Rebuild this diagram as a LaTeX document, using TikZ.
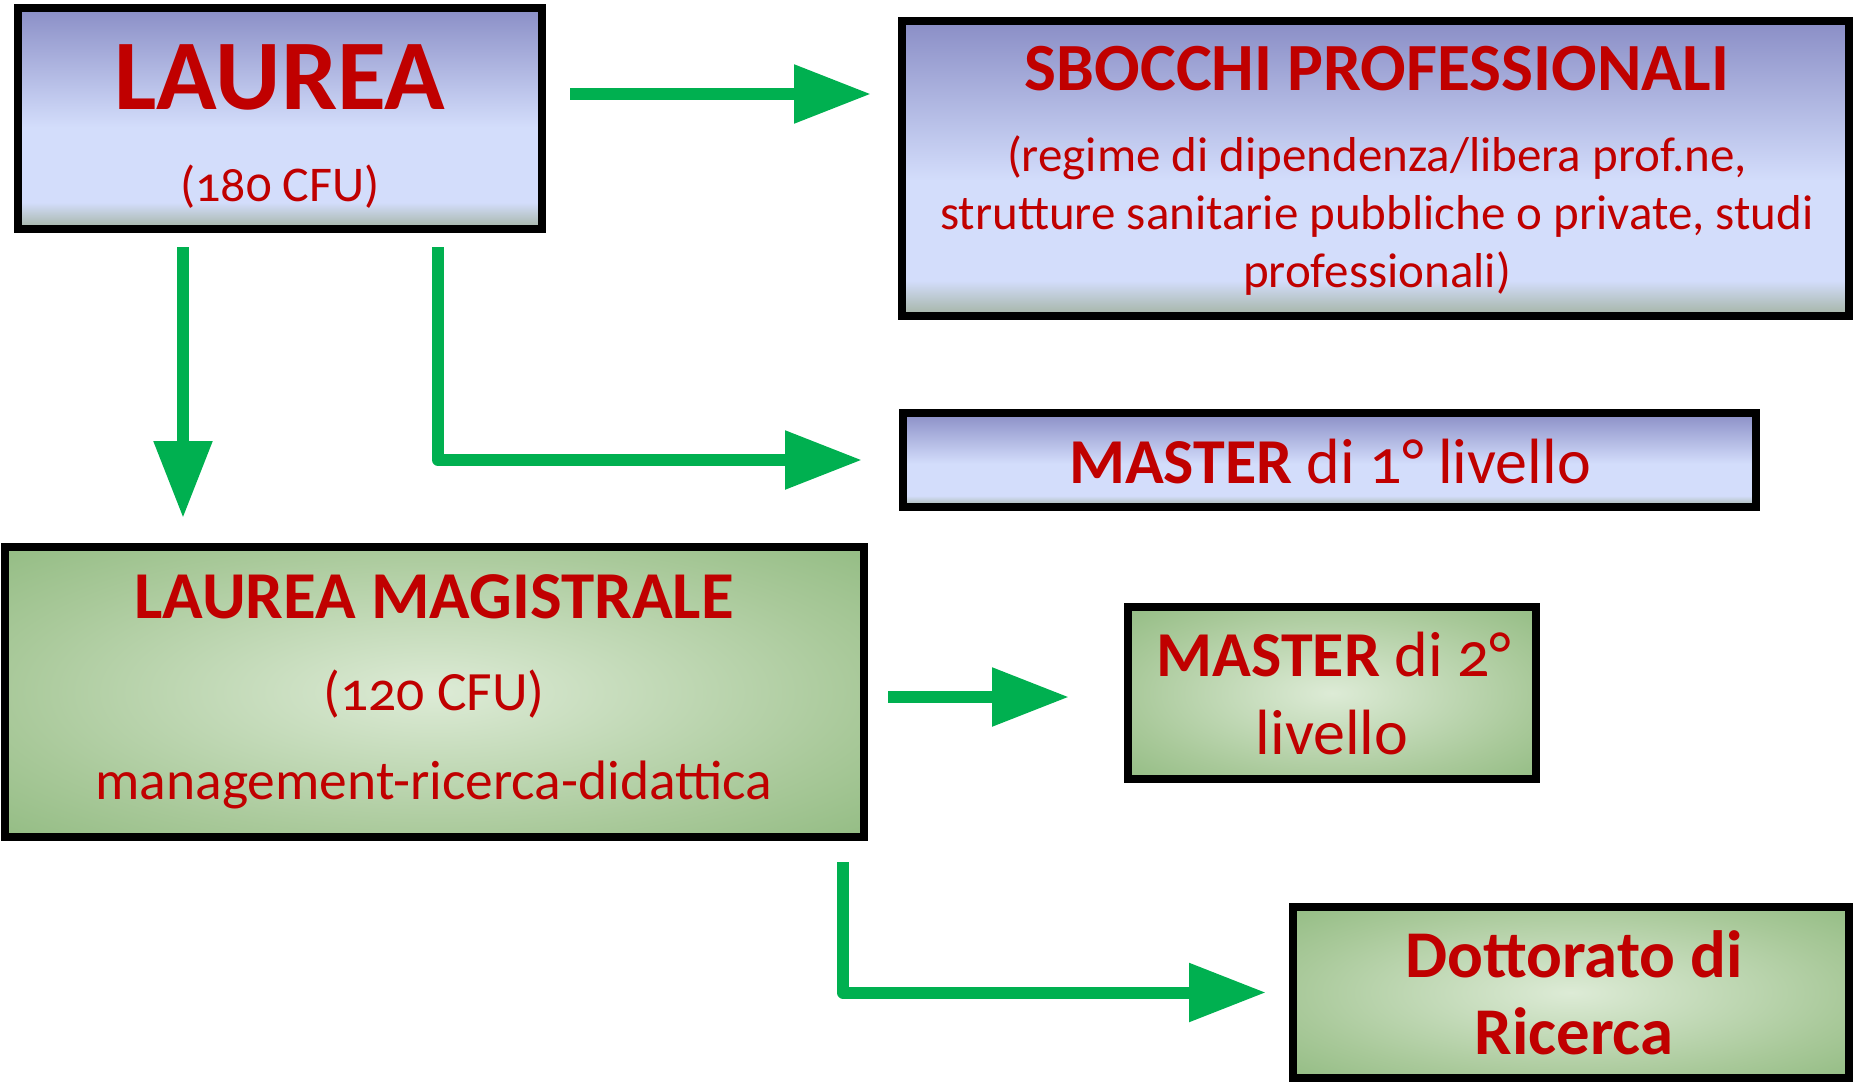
\documentclass[tikz,border=0pt]{standalone}
\usepackage{fontspec}
\setmainfont{Carlito}[Numbers=OldStyle]
\usetikzlibrary{arrows.meta}
\definecolor{txtred}{HTML}{C00000}
\definecolor{arrgreen}{HTML}{00B050}
\definecolor{btop}{HTML}{8A8EC6}
\definecolor{blight}{HTML}{D3DDFB}
\definecolor{bbot}{HTML}{A3B3A3}
\definecolor{ginner}{HTML}{DDEBD6}
\definecolor{gedge}{HTML}{A9C99A}
\definecolor{gcorner}{HTML}{93BC83}
\pgfdeclareverticalshading{bluegrad}{100bp}{color(0bp)=(bbot); color(25bp)=(bbot); color(31bp)=(blight); color(48bp)=(blight); color(75bp)=(btop); color(100bp)=(btop)}
\pgfdeclareradialshading{greengrad}{\pgfpoint{0bp}{0bp}}{color(0bp)=(ginner); color(25bp)=(gedge); color(36bp)=(gcorner); color(50bp)=(gcorner)}
\tikzset{
  bluebox/.style={draw=black, line width=8pt, shade, shading=bluegrad, outer sep=0pt, inner sep=0pt},
  greenbox/.style={draw=black, line width=8pt, shade, shading=greengrad, outer sep=0pt, inner sep=0pt},
  lbl/.style={text=txtred, anchor=base, inner sep=0pt, outer sep=0pt},
  arr/.style={draw=arrgreen, line width=12pt, line join=round, -{Triangle[length=77pt,width=56pt]}}
}
\begin{document}
\begin{tikzpicture}[x=1pt,y=-1pt]
\useasboundingbox (0,0) rectangle (1855,1084);
% boxes
\node[bluebox, minimum width=524pt, minimum height=221pt] (laurea) at (280,118.5) {};
\node[bluebox, minimum width=947pt, minimum height=295pt] (sbocchi) at (1375.5,168.5) {};
\node[bluebox, minimum width=853pt, minimum height=94pt] (m1) at (1329.5,460) {};
\node[greenbox, minimum width=859pt, minimum height=290pt] (lm) at (434.5,692) {};
\node[greenbox, minimum width=408pt, minimum height=172pt] (m2) at (1332,693) {};
\node[greenbox, minimum width=556pt, minimum height=171pt] (dott) at (1571,992.5) {};
% texts
\node[lbl, font=\bfseries\fontsize{100}{110}\selectfont] (laureaT) at (280,109) {LAUREA};
\node[lbl, font=\fontsize{50}{56}\selectfont] (laureaS) at (280,201) {(180 CFU)};
\node[lbl, font=\bfseries\fontsize{67.5}{74}\selectfont] (sbT) at (1377,90) {SBOCCHI PROFESSIONALI};
\node[lbl, font=\fontsize{49}{58}\selectfont] (sb1) at (1377,171) {(regime di dipendenza/libera prof.ne,};
\node[lbl, font=\fontsize{49}{58}\selectfont] (sb2) at (1377,229) {strutture sanitarie pubbliche o private, studi};
\node[lbl, font=\fontsize{49}{58}\selectfont] (sb3) at (1377,287) {professionali)};
\node[lbl, font=\fontsize{64}{70}\selectfont] (m1T) at (1330,483) {{\bfseries MASTER} di 1° livello};
\node[lbl, font=\bfseries\fontsize{67}{74}\selectfont] (lmT) at (434,618) {LAUREA MAGISTRALE};
\node[lbl, font=\fontsize{55.5}{62}\selectfont] (lmS) at (434,710) {(120 CFU)};
\node[lbl, font=\fontsize{55.5}{62}\selectfont] (lmM) at (434,799) {management-ricerca-didattica};
\node[lbl, font=\fontsize{64}{70}\selectfont] (m2T) at (1334,676) {{\bfseries MASTER} di 2°};
\node[lbl, font=\fontsize{64}{70}\selectfont] (m2S) at (1332,754) {livello};
\node[lbl, font=\bfseries\fontsize{66.8}{74}\selectfont] (dT) at (1574,977) {Dottorato di};
\node[lbl, font=\bfseries\fontsize{66.8}{74}\selectfont] (dS) at (1574,1054) {Ricerca};
% connectors
\coordinate (a1) at (570,94);
\coordinate (a2) at (183,247);
\coordinate (a3) at (438,247);
\coordinate (a4) at (888,697);
\coordinate (a5) at (843,862);
\draw[arr, shorten >=31pt] (a1) -- (a1 -| sbocchi.west);
\draw[arr, shorten >=29pt] (a2) -- (a2 |- lm.north);
\draw[arr, shorten >=41pt] (a3) |- (m1.west);
\draw[arr, shorten >=59pt] (a4) -- (a4 -| m2.west);
\draw[arr, shorten >=27pt] (a5) |- (dott.west);
\end{tikzpicture}
\end{document}
